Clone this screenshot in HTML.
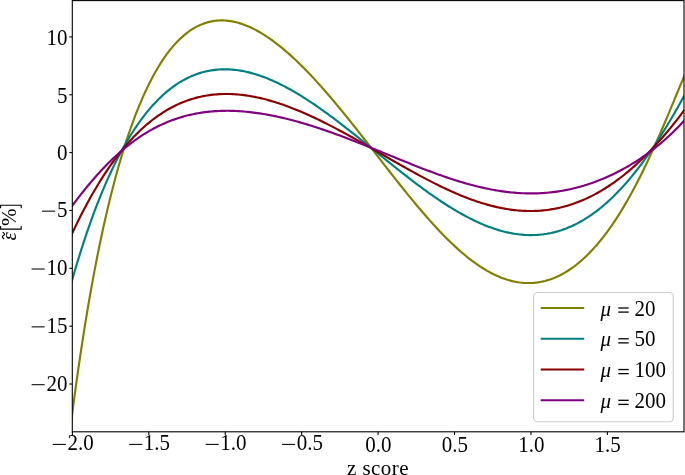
<!DOCTYPE html>
<html><head><meta charset="utf-8"><style>
html,body{margin:0;padding:0;background:#fff;}
svg{display:block;will-change:transform;}
text{font-family:"Liberation Serif",serif;font-size:21px;fill:#000;}
</style></head><body>
<svg width="685" height="475" viewBox="0 0 685 475">
<rect width="685" height="475" fill="#fff"/>
<defs><clipPath id="ax"><rect x="72.3" y="0.6" width="611.7" height="431.2"/></clipPath></defs>
<g clip-path="url(#ax)" fill="none" stroke-width="2.15" stroke-linejoin="round" stroke-linecap="butt">
<path d="M70.30,428.62 L72.23,413.49 L74.16,398.86 L76.09,384.71 L78.02,371.02 L79.95,357.79 L81.88,344.98 L83.81,332.58 L85.74,320.59 L87.67,308.98 L89.60,297.75 L91.53,286.88 L93.46,276.35 L95.39,266.17 L97.32,256.30 L99.25,246.76 L101.18,237.51 L103.11,228.57 L105.04,219.90 L106.97,211.52 L108.90,203.40 L110.83,195.55 L112.76,187.94 L114.69,180.58 L116.62,173.46 L118.55,166.57 L120.48,159.91 L122.41,153.46 L124.34,147.23 L126.27,141.20 L128.20,135.37 L130.13,129.74 L132.06,124.30 L133.99,119.05 L135.92,113.98 L137.85,109.08 L139.78,104.36 L141.71,99.80 L143.64,95.41 L145.57,91.18 L147.50,87.10 L149.43,83.18 L151.36,79.40 L153.29,75.78 L155.22,72.29 L157.15,68.95 L159.08,65.74 L161.01,62.66 L162.94,59.71 L164.87,56.90 L166.80,54.20 L168.73,51.63 L170.66,49.18 L172.59,46.85 L174.53,44.63 L176.46,42.52 L178.39,40.52 L180.32,38.63 L182.25,36.85 L184.18,35.17 L186.11,33.59 L188.04,32.11 L189.97,30.73 L191.90,29.44 L193.83,28.25 L195.76,27.15 L197.69,26.14 L199.62,25.21 L201.55,24.38 L203.48,23.63 L205.41,22.96 L207.34,22.37 L209.27,21.86 L211.20,21.43 L213.13,21.08 L215.06,20.80 L216.99,20.59 L218.92,20.46 L220.85,20.40 L222.78,20.40 L224.71,20.48 L226.64,20.62 L228.57,20.83 L230.50,21.10 L232.43,21.43 L234.36,21.83 L236.29,22.28 L238.22,22.79 L240.15,23.37 L242.08,23.99 L244.01,24.68 L245.94,25.42 L247.87,26.21 L249.80,27.05 L251.73,27.95 L253.66,28.89 L255.59,29.89 L257.52,30.93 L259.45,32.02 L261.38,33.16 L263.31,34.34 L265.24,35.56 L267.17,36.83 L269.10,38.14 L271.03,39.50 L272.96,40.89 L274.89,42.32 L276.82,43.80 L278.75,45.31 L280.68,46.85 L282.61,48.44 L284.54,50.06 L286.47,51.72 L288.40,53.41 L290.33,55.13 L292.26,56.88 L294.19,58.67 L296.12,60.49 L298.05,62.34 L299.98,64.22 L301.91,66.13 L303.84,68.06 L305.77,70.03 L307.70,72.02 L309.63,74.03 L311.56,76.08 L313.49,78.14 L315.42,80.23 L317.35,82.35 L319.28,84.49 L321.21,86.64 L323.14,88.82 L325.07,91.03 L327.00,93.25 L328.93,95.49 L330.86,97.74 L332.79,100.02 L334.72,102.31 L336.65,104.62 L338.58,106.95 L340.51,109.29 L342.44,111.64 L344.37,114.01 L346.30,116.39 L348.23,118.79 L350.16,121.19 L352.09,123.60 L354.02,126.03 L355.95,128.46 L357.88,130.91 L359.81,133.36 L361.74,135.81 L363.67,138.28 L365.60,140.75 L367.53,143.22 L369.46,145.70 L371.39,148.18 L373.32,150.66 L375.25,153.15 L377.18,155.63 L379.12,158.12 L381.05,160.60 L382.98,163.08 L384.91,165.56 L386.84,168.04 L388.77,170.51 L390.70,172.98 L392.63,175.44 L394.56,177.89 L396.49,180.34 L398.42,182.78 L400.35,185.21 L402.28,187.62 L404.21,190.03 L406.14,192.43 L408.07,194.81 L410.00,197.18 L411.93,199.53 L413.86,201.87 L415.79,204.19 L417.72,206.50 L419.65,208.78 L421.58,211.05 L423.51,213.30 L425.44,215.53 L427.37,217.73 L429.30,219.91 L431.23,222.07 L433.16,224.21 L435.09,226.32 L437.02,228.40 L438.95,230.46 L440.88,232.49 L442.81,234.49 L444.74,236.46 L446.67,238.40 L448.60,240.31 L450.53,242.19 L452.46,244.04 L454.39,245.85 L456.32,247.63 L458.25,249.37 L460.18,251.08 L462.11,252.75 L464.04,254.38 L465.97,255.98 L467.90,257.54 L469.83,259.05 L471.76,260.53 L473.69,261.97 L475.62,263.36 L477.55,264.71 L479.48,266.02 L481.41,267.28 L483.34,268.50 L485.27,269.68 L487.20,270.81 L489.13,271.89 L491.06,272.93 L492.99,273.92 L494.92,274.86 L496.85,275.76 L498.78,276.60 L500.71,277.40 L502.64,278.14 L504.57,278.84 L506.50,279.48 L508.43,280.07 L510.36,280.61 L512.29,281.10 L514.22,281.53 L516.15,281.91 L518.08,282.24 L520.01,282.51 L521.94,282.73 L523.87,282.89 L525.80,283.00 L527.73,283.05 L529.66,283.04 L531.59,282.98 L533.52,282.86 L535.45,282.68 L537.38,282.45 L539.31,282.16 L541.24,281.80 L543.17,281.39 L545.10,280.92 L547.03,280.39 L548.96,279.80 L550.89,279.15 L552.82,278.44 L554.75,277.67 L556.68,276.84 L558.61,275.94 L560.54,274.98 L562.47,273.96 L564.40,272.88 L566.33,271.73 L568.26,270.52 L570.19,269.25 L572.12,267.91 L574.05,266.50 L575.98,265.03 L577.91,263.49 L579.84,261.89 L581.77,260.22 L583.71,258.49 L585.64,256.68 L587.57,254.81 L589.50,252.87 L591.43,250.87 L593.36,248.79 L595.29,246.64 L597.22,244.43 L599.15,242.14 L601.08,239.78 L603.01,237.36 L604.94,234.86 L606.87,232.29 L608.80,229.65 L610.73,226.93 L612.66,224.15 L614.59,221.29 L616.52,218.36 L618.45,215.35 L620.38,212.27 L622.31,209.12 L624.24,205.90 L626.17,202.61 L628.10,199.24 L630.03,195.80 L631.96,192.29 L633.89,188.71 L635.82,185.06 L637.75,181.33 L639.68,177.54 L641.61,173.69 L643.54,169.76 L645.47,165.77 L647.40,161.71 L649.33,157.60 L651.26,153.42 L653.19,149.19 L655.12,144.90 L657.05,140.55 L658.98,136.16 L660.91,131.72 L662.84,127.23 L664.77,122.71 L666.70,118.15 L668.63,113.56 L670.56,108.94 L672.49,104.30 L674.42,99.65 L676.35,94.99 L678.28,90.33 L680.21,85.68 L682.14,81.04 L684.07,76.42 L686.00,71.83" stroke="#808000"/>
<path d="M70.30,286.60 L72.23,279.74 L74.16,273.04 L76.09,266.50 L78.02,260.11 L79.95,253.86 L81.88,247.77 L83.81,241.81 L85.74,236.00 L87.67,230.33 L89.60,224.79 L91.53,219.39 L93.46,214.11 L95.39,208.97 L97.32,203.95 L99.25,199.06 L101.18,194.29 L103.11,189.64 L105.04,185.11 L106.97,180.69 L108.90,176.39 L110.83,172.20 L112.76,168.12 L114.69,164.14 L116.62,160.28 L118.55,156.51 L120.48,152.85 L122.41,149.29 L124.34,145.83 L126.27,142.47 L128.20,139.20 L130.13,136.03 L132.06,132.95 L133.99,129.96 L135.92,127.06 L137.85,124.25 L139.78,121.52 L141.71,118.88 L143.64,116.32 L145.57,113.85 L147.50,111.45 L149.43,109.14 L151.36,106.90 L153.29,104.74 L155.22,102.66 L157.15,100.65 L159.08,98.72 L161.01,96.86 L162.94,95.06 L164.87,93.34 L166.80,91.69 L168.73,90.11 L170.66,88.59 L172.59,87.13 L174.53,85.75 L176.46,84.42 L178.39,83.16 L180.32,81.96 L182.25,80.82 L184.18,79.74 L186.11,78.72 L188.04,77.75 L189.97,76.85 L191.90,76.00 L193.83,75.20 L195.76,74.46 L197.69,73.77 L199.62,73.14 L201.55,72.55 L203.48,72.02 L205.41,71.54 L207.34,71.11 L209.27,70.72 L211.20,70.39 L213.13,70.10 L215.06,69.85 L216.99,69.66 L218.92,69.51 L220.85,69.40 L222.78,69.33 L224.71,69.31 L226.64,69.33 L228.57,69.39 L230.50,69.50 L232.43,69.64 L234.36,69.82 L236.29,70.04 L238.22,70.30 L240.15,70.60 L242.08,70.93 L244.01,71.30 L245.94,71.71 L247.87,72.15 L249.80,72.62 L251.73,73.13 L253.66,73.68 L255.59,74.25 L257.52,74.86 L259.45,75.50 L261.38,76.17 L263.31,76.87 L265.24,77.60 L267.17,78.35 L269.10,79.14 L271.03,79.96 L272.96,80.80 L274.89,81.67 L276.82,82.57 L278.75,83.49 L280.68,84.44 L282.61,85.41 L284.54,86.41 L286.47,87.43 L288.40,88.47 L290.33,89.54 L292.26,90.63 L294.19,91.74 L296.12,92.87 L298.05,94.02 L299.98,95.20 L301.91,96.39 L303.84,97.60 L305.77,98.83 L307.70,100.08 L309.63,101.34 L311.56,102.62 L313.49,103.92 L315.42,105.24 L317.35,106.57 L319.28,107.91 L321.21,109.27 L323.14,110.65 L325.07,112.03 L327.00,113.43 L328.93,114.85 L330.86,116.27 L332.79,117.71 L334.72,119.16 L336.65,120.61 L338.58,122.08 L340.51,123.56 L342.44,125.05 L344.37,126.54 L346.30,128.04 L348.23,129.55 L350.16,131.07 L352.09,132.60 L354.02,134.13 L355.95,135.66 L357.88,137.20 L359.81,138.75 L361.74,140.30 L363.67,141.85 L365.60,143.41 L367.53,144.96 L369.46,146.52 L371.39,148.09 L373.32,149.65 L375.25,151.21 L377.18,152.78 L379.12,154.34 L381.05,155.90 L382.98,157.47 L384.91,159.03 L386.84,160.58 L388.77,162.14 L390.70,163.69 L392.63,165.24 L394.56,166.78 L396.49,168.32 L398.42,169.85 L400.35,171.38 L402.28,172.90 L404.21,174.41 L406.14,175.92 L408.07,177.42 L410.00,178.91 L411.93,180.39 L413.86,181.86 L415.79,183.33 L417.72,184.78 L419.65,186.22 L421.58,187.65 L423.51,189.07 L425.44,190.48 L427.37,191.87 L429.30,193.26 L431.23,194.62 L433.16,195.98 L435.09,197.32 L437.02,198.64 L438.95,199.95 L440.88,201.24 L442.81,202.52 L444.74,203.77 L446.67,205.01 L448.60,206.24 L450.53,207.44 L452.46,208.63 L454.39,209.79 L456.32,210.94 L458.25,212.06 L460.18,213.17 L462.11,214.25 L464.04,215.31 L465.97,216.35 L467.90,217.37 L469.83,218.36 L471.76,219.33 L473.69,220.28 L475.62,221.20 L477.55,222.09 L479.48,222.96 L481.41,223.80 L483.34,224.62 L485.27,225.41 L487.20,226.17 L489.13,226.91 L491.06,227.61 L492.99,228.29 L494.92,228.94 L496.85,229.55 L498.78,230.14 L500.71,230.70 L502.64,231.22 L504.57,231.72 L506.50,232.18 L508.43,232.61 L510.36,233.01 L512.29,233.37 L514.22,233.70 L516.15,234.00 L518.08,234.26 L520.01,234.48 L521.94,234.67 L523.87,234.83 L525.80,234.95 L527.73,235.03 L529.66,235.07 L531.59,235.08 L533.52,235.05 L535.45,234.98 L537.38,234.88 L539.31,234.73 L541.24,234.54 L543.17,234.32 L545.10,234.05 L547.03,233.75 L548.96,233.40 L550.89,233.02 L552.82,232.59 L554.75,232.12 L556.68,231.60 L558.61,231.05 L560.54,230.45 L562.47,229.81 L564.40,229.12 L566.33,228.40 L568.26,227.62 L570.19,226.81 L572.12,225.95 L574.05,225.04 L575.98,224.09 L577.91,223.09 L579.84,222.05 L581.77,220.96 L583.71,219.83 L585.64,218.65 L587.57,217.42 L589.50,216.15 L591.43,214.83 L593.36,213.46 L595.29,212.05 L597.22,210.59 L599.15,209.08 L601.08,207.52 L603.01,205.92 L604.94,204.27 L606.87,202.57 L608.80,200.82 L610.73,199.02 L612.66,197.18 L614.59,195.29 L616.52,193.35 L618.45,191.36 L620.38,189.32 L622.31,187.23 L624.24,185.10 L626.17,182.92 L628.10,180.69 L630.03,178.41 L631.96,176.09 L633.89,173.71 L635.82,171.29 L637.75,168.82 L639.68,166.30 L641.61,163.74 L643.54,161.13 L645.47,158.47 L647.40,155.77 L649.33,153.02 L651.26,150.22 L653.19,147.38 L655.12,144.49 L657.05,141.56 L658.98,138.58 L660.91,135.56 L662.84,132.50 L664.77,129.39 L666.70,126.24 L668.63,123.04 L670.56,119.81 L672.49,116.53 L674.42,113.22 L676.35,109.86 L678.28,106.46 L680.21,103.03 L682.14,99.55 L684.07,96.04 L686.00,92.50" stroke="#008080"/>
<path d="M70.30,237.41 L72.23,233.24 L74.16,229.14 L76.09,225.12 L78.02,221.18 L79.95,217.31 L81.88,213.51 L83.81,209.78 L85.74,206.13 L87.67,202.54 L89.60,199.03 L91.53,195.59 L93.46,192.22 L95.39,188.92 L97.32,185.69 L99.25,182.52 L101.18,179.43 L103.11,176.40 L105.04,173.44 L106.97,170.54 L108.90,167.71 L110.83,164.95 L112.76,162.25 L114.69,159.61 L116.62,157.04 L118.55,154.53 L120.48,152.08 L122.41,149.69 L124.34,147.36 L126.27,145.10 L128.20,142.89 L130.13,140.74 L132.06,138.65 L133.99,136.61 L135.92,134.63 L137.85,132.71 L139.78,130.85 L141.71,129.03 L143.64,127.28 L145.57,125.57 L147.50,123.92 L149.43,122.32 L151.36,120.77 L153.29,119.27 L155.22,117.83 L157.15,116.43 L159.08,115.08 L161.01,113.78 L162.94,112.52 L164.87,111.32 L166.80,110.16 L168.73,109.04 L170.66,107.97 L172.59,106.95 L174.53,105.97 L176.46,105.03 L178.39,104.14 L180.32,103.28 L182.25,102.47 L184.18,101.70 L186.11,100.97 L188.04,100.28 L189.97,99.63 L191.90,99.01 L193.83,98.44 L195.76,97.90 L197.69,97.40 L199.62,96.94 L201.55,96.51 L203.48,96.12 L205.41,95.76 L207.34,95.44 L209.27,95.15 L211.20,94.89 L213.13,94.67 L215.06,94.47 L216.99,94.31 L218.92,94.19 L220.85,94.09 L222.78,94.02 L224.71,93.98 L226.64,93.98 L228.57,94.00 L230.50,94.05 L232.43,94.12 L234.36,94.23 L236.29,94.36 L238.22,94.52 L240.15,94.71 L242.08,94.92 L244.01,95.15 L245.94,95.42 L247.87,95.70 L249.80,96.01 L251.73,96.35 L253.66,96.70 L255.59,97.08 L257.52,97.49 L259.45,97.91 L261.38,98.36 L263.31,98.83 L265.24,99.31 L267.17,99.82 L269.10,100.35 L271.03,100.90 L272.96,101.47 L274.89,102.06 L276.82,102.67 L278.75,103.29 L280.68,103.94 L282.61,104.60 L284.54,105.28 L286.47,105.97 L288.40,106.69 L290.33,107.42 L292.26,108.16 L294.19,108.92 L296.12,109.70 L298.05,110.49 L299.98,111.29 L301.91,112.11 L303.84,112.94 L305.77,113.79 L307.70,114.65 L309.63,115.52 L311.56,116.41 L313.49,117.30 L315.42,118.21 L317.35,119.13 L319.28,120.07 L321.21,121.01 L323.14,121.96 L325.07,122.93 L327.00,123.90 L328.93,124.88 L330.86,125.87 L332.79,126.88 L334.72,127.88 L336.65,128.90 L338.58,129.93 L340.51,130.96 L342.44,132.00 L344.37,133.05 L346.30,134.10 L348.23,135.16 L350.16,136.23 L352.09,137.30 L354.02,138.38 L355.95,139.46 L357.88,140.55 L359.81,141.64 L361.74,142.73 L363.67,143.83 L365.60,144.93 L367.53,146.03 L369.46,147.14 L371.39,148.24 L373.32,149.35 L375.25,150.46 L377.18,151.58 L379.12,152.69 L381.05,153.80 L382.98,154.92 L384.91,156.03 L386.84,157.14 L388.77,158.25 L390.70,159.36 L392.63,160.47 L394.56,161.57 L396.49,162.67 L398.42,163.77 L400.35,164.87 L402.28,165.96 L404.21,167.05 L406.14,168.13 L408.07,169.21 L410.00,170.29 L411.93,171.36 L413.86,172.42 L415.79,173.47 L417.72,174.52 L419.65,175.57 L421.58,176.60 L423.51,177.63 L425.44,178.65 L427.37,179.66 L429.30,180.66 L431.23,181.65 L433.16,182.63 L435.09,183.60 L437.02,184.57 L438.95,185.52 L440.88,186.46 L442.81,187.38 L444.74,188.30 L446.67,189.20 L448.60,190.09 L450.53,190.97 L452.46,191.83 L454.39,192.68 L456.32,193.52 L458.25,194.34 L460.18,195.14 L462.11,195.93 L464.04,196.71 L465.97,197.47 L467.90,198.21 L469.83,198.93 L471.76,199.64 L473.69,200.33 L475.62,201.00 L477.55,201.65 L479.48,202.28 L481.41,202.90 L483.34,203.49 L485.27,204.07 L487.20,204.62 L489.13,205.16 L491.06,205.67 L492.99,206.16 L494.92,206.63 L496.85,207.08 L498.78,207.51 L500.71,207.91 L502.64,208.29 L504.57,208.65 L506.50,208.98 L508.43,209.29 L510.36,209.58 L512.29,209.84 L514.22,210.07 L516.15,210.28 L518.08,210.47 L520.01,210.62 L521.94,210.76 L523.87,210.86 L525.80,210.94 L527.73,211.00 L529.66,211.02 L531.59,211.02 L533.52,210.99 L535.45,210.93 L537.38,210.85 L539.31,210.73 L541.24,210.59 L543.17,210.42 L545.10,210.22 L547.03,209.99 L548.96,209.72 L550.89,209.43 L552.82,209.11 L554.75,208.76 L556.68,208.38 L558.61,207.97 L560.54,207.53 L562.47,207.05 L564.40,206.55 L566.33,206.01 L568.26,205.44 L570.19,204.84 L572.12,204.21 L574.05,203.55 L575.98,202.85 L577.91,202.13 L579.84,201.37 L581.77,200.57 L583.71,199.75 L585.64,198.89 L587.57,198.00 L589.50,197.08 L591.43,196.12 L593.36,195.13 L595.29,194.11 L597.22,193.05 L599.15,191.96 L601.08,190.84 L603.01,189.68 L604.94,188.49 L606.87,187.27 L608.80,186.01 L610.73,184.72 L612.66,183.39 L614.59,182.03 L616.52,180.64 L618.45,179.21 L620.38,177.75 L622.31,176.26 L624.24,174.73 L626.17,173.17 L628.10,171.57 L630.03,169.94 L631.96,168.28 L633.89,166.58 L635.82,164.85 L637.75,163.08 L639.68,161.28 L641.61,159.45 L643.54,157.58 L645.47,155.68 L647.40,153.74 L649.33,151.77 L651.26,149.76 L653.19,147.72 L655.12,145.65 L657.05,143.54 L658.98,141.40 L660.91,139.22 L662.84,137.01 L664.77,134.76 L666.70,132.48 L668.63,130.16 L670.56,127.81 L672.49,125.43 L674.42,123.00 L676.35,120.55 L678.28,118.06 L680.21,115.53 L682.14,112.97 L684.07,110.37 L686.00,107.73" stroke="#8b0000"/>
<path d="M70.30,208.35 L72.23,205.75 L74.16,203.17 L76.09,200.62 L78.02,198.11 L79.95,195.62 L81.88,193.17 L83.81,190.75 L85.74,188.37 L87.67,186.02 L89.60,183.70 L91.53,181.42 L93.46,179.18 L95.39,176.98 L97.32,174.81 L99.25,172.68 L101.18,170.59 L103.11,168.53 L105.04,166.52 L106.97,164.54 L108.90,162.61 L110.83,160.71 L112.76,158.85 L114.69,157.04 L116.62,155.26 L118.55,153.52 L120.48,151.82 L122.41,150.16 L124.34,148.54 L126.27,146.95 L128.20,145.41 L130.13,143.91 L132.06,142.44 L133.99,141.01 L135.92,139.62 L137.85,138.27 L139.78,136.96 L141.71,135.68 L143.64,134.44 L145.57,133.24 L147.50,132.07 L149.43,130.94 L151.36,129.85 L153.29,128.79 L155.22,127.77 L157.15,126.78 L159.08,125.82 L161.01,124.90 L162.94,124.01 L164.87,123.16 L166.80,122.34 L168.73,121.55 L170.66,120.79 L172.59,120.06 L174.53,119.37 L176.46,118.70 L178.39,118.07 L180.32,117.46 L182.25,116.89 L184.18,116.34 L186.11,115.82 L188.04,115.33 L189.97,114.87 L191.90,114.43 L193.83,114.02 L195.76,113.64 L197.69,113.29 L199.62,112.96 L201.55,112.65 L203.48,112.37 L205.41,112.11 L207.34,111.88 L209.27,111.67 L211.20,111.49 L213.13,111.32 L215.06,111.18 L216.99,111.07 L218.92,110.97 L220.85,110.90 L222.78,110.84 L224.71,110.81 L226.64,110.79 L228.57,110.80 L230.50,110.83 L232.43,110.87 L234.36,110.94 L236.29,111.02 L238.22,111.12 L240.15,111.24 L242.08,111.38 L244.01,111.53 L245.94,111.70 L247.87,111.89 L249.80,112.10 L251.73,112.32 L253.66,112.56 L255.59,112.81 L257.52,113.08 L259.45,113.36 L261.38,113.66 L263.31,113.97 L265.24,114.30 L267.17,114.64 L269.10,114.99 L271.03,115.36 L272.96,115.74 L274.89,116.14 L276.82,116.54 L278.75,116.96 L280.68,117.40 L282.61,117.84 L284.54,118.30 L286.47,118.77 L288.40,119.25 L290.33,119.74 L292.26,120.24 L294.19,120.76 L296.12,121.28 L298.05,121.82 L299.98,122.36 L301.91,122.92 L303.84,123.48 L305.77,124.06 L307.70,124.64 L309.63,125.23 L311.56,125.84 L313.49,126.45 L315.42,127.07 L317.35,127.70 L319.28,128.33 L321.21,128.98 L323.14,129.63 L325.07,130.29 L327.00,130.96 L328.93,131.63 L330.86,132.32 L332.79,133.00 L334.72,133.70 L336.65,134.40 L338.58,135.11 L340.51,135.83 L342.44,136.55 L344.37,137.27 L346.30,138.00 L348.23,138.74 L350.16,139.48 L352.09,140.23 L354.02,140.98 L355.95,141.73 L357.88,142.49 L359.81,143.25 L361.74,144.02 L363.67,144.79 L365.60,145.56 L367.53,146.34 L369.46,147.12 L371.39,147.90 L373.32,148.68 L375.25,149.46 L377.18,150.25 L379.12,151.04 L381.05,151.83 L382.98,152.62 L384.91,153.41 L386.84,154.20 L388.77,154.99 L390.70,155.78 L392.63,156.57 L394.56,157.36 L396.49,158.15 L398.42,158.94 L400.35,159.72 L402.28,160.51 L404.21,161.29 L406.14,162.07 L408.07,162.84 L410.00,163.62 L411.93,164.39 L413.86,165.15 L415.79,165.92 L417.72,166.68 L419.65,167.43 L421.58,168.18 L423.51,168.93 L425.44,169.66 L427.37,170.40 L429.30,171.13 L431.23,171.85 L433.16,172.56 L435.09,173.27 L437.02,173.97 L438.95,174.66 L440.88,175.35 L442.81,176.03 L444.74,176.70 L446.67,177.36 L448.60,178.01 L450.53,178.65 L452.46,179.28 L454.39,179.90 L456.32,180.52 L458.25,181.12 L460.18,181.71 L462.11,182.29 L464.04,182.86 L465.97,183.41 L467.90,183.96 L469.83,184.49 L471.76,185.01 L473.69,185.51 L475.62,186.01 L477.55,186.49 L479.48,186.95 L481.41,187.40 L483.34,187.84 L485.27,188.27 L487.20,188.67 L489.13,189.07 L491.06,189.45 L492.99,189.81 L494.92,190.15 L496.85,190.48 L498.78,190.80 L500.71,191.10 L502.64,191.38 L504.57,191.64 L506.50,191.89 L508.43,192.11 L510.36,192.33 L512.29,192.52 L514.22,192.69 L516.15,192.85 L518.08,192.99 L520.01,193.11 L521.94,193.21 L523.87,193.29 L525.80,193.35 L527.73,193.40 L529.66,193.42 L531.59,193.43 L533.52,193.41 L535.45,193.37 L537.38,193.32 L539.31,193.24 L541.24,193.15 L543.17,193.03 L545.10,192.89 L547.03,192.73 L548.96,192.55 L550.89,192.35 L552.82,192.13 L554.75,191.89 L556.68,191.63 L558.61,191.34 L560.54,191.04 L562.47,190.71 L564.40,190.36 L566.33,189.99 L568.26,189.59 L570.19,189.18 L572.12,188.74 L574.05,188.28 L575.98,187.80 L577.91,187.30 L579.84,186.78 L581.77,186.23 L583.71,185.66 L585.64,185.07 L587.57,184.46 L589.50,183.82 L591.43,183.16 L593.36,182.48 L595.29,181.78 L597.22,181.05 L599.15,180.30 L601.08,179.53 L603.01,178.73 L604.94,177.92 L606.87,177.07 L608.80,176.21 L610.73,175.32 L612.66,174.41 L614.59,173.47 L616.52,172.51 L618.45,171.53 L620.38,170.52 L622.31,169.48 L624.24,168.42 L626.17,167.34 L628.10,166.23 L630.03,165.10 L631.96,163.94 L633.89,162.75 L635.82,161.54 L637.75,160.29 L639.68,159.03 L641.61,157.73 L643.54,156.40 L645.47,155.05 L647.40,153.67 L649.33,152.25 L651.26,150.81 L653.19,149.33 L655.12,147.82 L657.05,146.28 L658.98,144.71 L660.91,143.10 L662.84,141.45 L664.77,139.77 L666.70,138.06 L668.63,136.30 L670.56,134.50 L672.49,132.67 L674.42,130.79 L676.35,128.87 L678.28,126.90 L680.21,124.89 L682.14,122.83 L684.07,120.73 L686.00,118.57" stroke="#800080"/>
</g>
<g stroke="#000" stroke-width="1.1"><line x1="72.40" y1="431.80" x2="72.40" y2="435.00"/><line x1="148.83" y1="431.80" x2="148.83" y2="435.00"/><line x1="225.25" y1="431.80" x2="225.25" y2="435.00"/><line x1="301.68" y1="431.80" x2="301.68" y2="435.00"/><line x1="378.10" y1="431.80" x2="378.10" y2="435.00"/><line x1="454.53" y1="431.80" x2="454.53" y2="435.00"/><line x1="530.95" y1="431.80" x2="530.95" y2="435.00"/><line x1="607.38" y1="431.80" x2="607.38" y2="435.00"/><line x1="69.30" y1="36.93" x2="72.30" y2="36.93"/><line x1="69.30" y1="94.78" x2="72.30" y2="94.78"/><line x1="69.30" y1="152.62" x2="72.30" y2="152.62"/><line x1="69.30" y1="210.47" x2="72.30" y2="210.47"/><line x1="69.30" y1="268.31" x2="72.30" y2="268.31"/><line x1="69.30" y1="326.16" x2="72.30" y2="326.16"/><line x1="69.30" y1="384.00" x2="72.30" y2="384.00"/></g>
<rect x="72.3" y="0.6" width="611.7" height="431.2" fill="none" stroke="#000" stroke-width="1.1"/>
<g stroke="#000" stroke-width="1.05"><line x1="52.78" y1="444.40" x2="65.88" y2="444.40"/><line x1="129.20" y1="444.40" x2="142.30" y2="444.40"/><line x1="205.63" y1="444.40" x2="218.73" y2="444.40"/><line x1="282.05" y1="444.40" x2="295.15" y2="444.40"/><line x1="42.10" y1="211.16" x2="55.20" y2="211.16"/><line x1="31.60" y1="269.01" x2="44.70" y2="269.01"/><line x1="31.60" y1="326.86" x2="44.70" y2="326.86"/><line x1="31.60" y1="384.70" x2="44.70" y2="384.70"/></g>
<text transform="translate(80.50,449.80) scale(1,1.07)" text-anchor="middle">2.0</text><text transform="translate(156.93,449.80) scale(1,1.07)" text-anchor="middle">1.5</text><text transform="translate(233.35,449.80) scale(1,1.07)" text-anchor="middle">1.0</text><text transform="translate(309.78,449.80) scale(1,1.07)" text-anchor="middle">0.5</text><text transform="translate(378.40,451.60) scale(1,1.07)" text-anchor="middle">0.0</text><text transform="translate(454.83,451.60) scale(1,1.07)" text-anchor="middle">0.5</text><text transform="translate(531.25,451.60) scale(1,1.07)" text-anchor="middle">1.0</text><text transform="translate(607.67,451.60) scale(1,1.07)" text-anchor="middle">1.5</text><text transform="translate(67.60,44.73) scale(1,1.07)" text-anchor="end">10</text><text transform="translate(67.60,102.58) scale(1,1.07)" text-anchor="end">5</text><text transform="translate(67.60,160.42) scale(1,1.07)" text-anchor="end">0</text><text transform="translate(67.60,216.97) scale(1,1.07)" text-anchor="end">5</text><text transform="translate(67.60,274.81) scale(1,1.07)" text-anchor="end">10</text><text transform="translate(67.60,332.66) scale(1,1.07)" text-anchor="end">15</text><text transform="translate(67.60,390.50) scale(1,1.07)" text-anchor="end">20</text>
<rect x="533.6" y="292.5" width="139.7" height="129.2" rx="4" ry="4" fill="#fff" fill-opacity="0.8" stroke="#cccccc" stroke-width="1.1"/>
<line x1="540.7" y1="308.00" x2="584.2" y2="308.00" stroke="#808000" stroke-width="2.1"/><text x="600.60" y="315.60" font-style="italic">μ</text><line x1="618.3" y1="308.00" x2="628.7" y2="308.00" stroke="#000" stroke-width="1.3"/><line x1="618.3" y1="312.10" x2="628.7" y2="312.10" stroke="#000" stroke-width="1.3"/><text transform="translate(634.60,315.60) scale(1,1.07)">20</text><line x1="540.7" y1="338.77" x2="584.2" y2="338.77" stroke="#008080" stroke-width="2.1"/><text x="600.60" y="346.37" font-style="italic">μ</text><line x1="618.3" y1="338.77" x2="628.7" y2="338.77" stroke="#000" stroke-width="1.3"/><line x1="618.3" y1="342.87" x2="628.7" y2="342.87" stroke="#000" stroke-width="1.3"/><text transform="translate(634.60,346.37) scale(1,1.07)">50</text><line x1="540.7" y1="369.54" x2="584.2" y2="369.54" stroke="#8b0000" stroke-width="2.1"/><text x="600.60" y="377.14" font-style="italic">μ</text><line x1="618.3" y1="369.54" x2="628.7" y2="369.54" stroke="#000" stroke-width="1.3"/><line x1="618.3" y1="373.64" x2="628.7" y2="373.64" stroke="#000" stroke-width="1.3"/><text transform="translate(634.60,377.14) scale(1,1.07)">100</text><line x1="540.7" y1="400.31" x2="584.2" y2="400.31" stroke="#800080" stroke-width="2.1"/><text x="600.60" y="407.91" font-style="italic">μ</text><line x1="618.3" y1="400.31" x2="628.7" y2="400.31" stroke="#000" stroke-width="1.3"/><line x1="618.3" y1="404.41" x2="628.7" y2="404.41" stroke="#000" stroke-width="1.3"/><text transform="translate(634.60,407.91) scale(1,1.07)">200</text>
<text x="378" y="474.5" text-anchor="middle" font-size="22" letter-spacing="0.45">z score</text>
<g fill="none" stroke="#000" stroke-width="1.1"><path d="M0.6,208.2 L0.6,205.2 L21.2,205.2 L21.2,208.2"/><path d="M0.6,226.1 L0.6,229.1 L21.2,229.1 L21.2,226.1"/>
<path d="M4.17,238.90 C2.74,238.11 2.30,237.58 2.30,236.79 C2.30,235.93 4.50,235.27 4.50,234.41 C4.50,233.62 4.06,233.09 2.63,232.30" stroke-width="1.2"/></g>
<g transform="translate(15.6,217.3) rotate(-90)"><text x="0" y="0" text-anchor="middle" font-size="21">%</text></g>
<g transform="translate(16.0,236.3) rotate(-90)"><text x="0" y="0" text-anchor="middle" font-style="italic" font-size="21">ε</text></g>
</svg>
</body></html>
